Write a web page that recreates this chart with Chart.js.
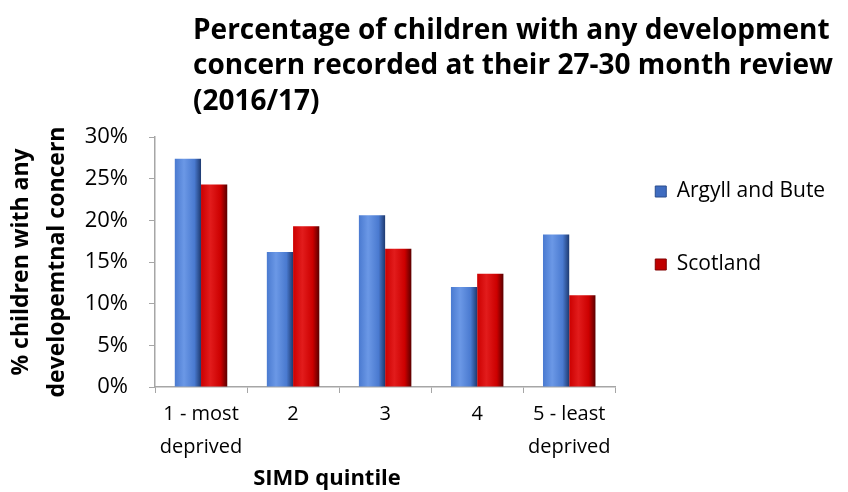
<!DOCTYPE html>
<html>
<head>
<meta charset="utf-8">
<script src="https://cdn.jsdelivr.net/npm/chart.js@4/dist/chart.umd.min.js"></script>
<style>
  html, body { margin: 0; padding: 0; background: #fff; }
  #wrap { width: 848px; height: 492px; }
</style>
</head>
<body>
<div id="wrap"><canvas id="chart" width="848" height="492"></canvas></div>
<script>
const categories = [['1 - most', 'deprived'], '2', '3', '4', ['5 - least', 'deprived']];
const argyllAndBute = [27.4, 16.2, 20.6, 12.0, 18.3];
const scotland = [24.3, 19.3, 16.6, 13.6, 11.0];
const yTicks = [0, 5, 10, 15, 20, 25, 30];

const titleLines = [
  'Percentage of children with any development',
  'concern recorded at their 27-30 month review',
  '(2016/17)'
];

const FONT = '"Open Sans", Lato, sans-serif';
const CAT_PCT = 0.57;

// cylinder-ish shading across each bar
function barFill(base, light, dark, side) {
  return ctx => {
    const chart = ctx.chart;
    const x = chart.scales.x;
    if (!chart.chartArea || !x || ctx.dataIndex == null) return base;
    const catW = x.width / categories.length;
    const w = catW * CAT_PCT / 2;
    const c = x.getPixelForValue(ctx.dataIndex);
    const left = side === 0 ? c - w : c;
    const g = chart.ctx.createLinearGradient(left, 0, left + w, 0);
    g.addColorStop(0, base);
    g.addColorStop(0.35, light);
    g.addColorStop(0.75, base);
    g.addColorStop(1, dark);
    return g;
  };
}

const textPlugin = {
  id: 'extraText',
  afterLayout(chart) {
    // nudge the legend a bit left/up and give its text room
    const lg = chart.legend;
    if (!lg) return;
    lg.left -= 12;
    lg.right = chart.width;
    lg.width = lg.right - lg.left;
    lg.top -= 8; lg.bottom -= 8;
  },
  afterDraw(chart) {
    const c = chart.ctx;
    c.save();
    c.fillStyle = '#000';
    c.textBaseline = 'middle';
    c.textAlign = 'left';
    c.font = 'bold 28px ' + FONT;
    titleLines.forEach((t, i) => c.fillText(t, 193, 31 + i * 35.5));
    c.font = 'bold 22px ' + FONT;
    c.textAlign = 'center';
    c.fillText('SIMD quintile', 327, 479);
    c.restore();
  }
};

function draw() {
  new Chart(document.getElementById('chart'), {
    type: 'bar',
    data: {
      labels: categories,
      datasets: [
        {
          label: 'Argyll and Bute',
          data: argyllAndBute,
          backgroundColor: barFill('#4a7ad0', '#6b98e6', '#1e3a70', 0),
          borderWidth: 0
        },
        {
          label: 'Scotland',
          data: scotland,
          backgroundColor: barFill('#cc0000', '#e21c1c', '#5a0000', 1),
          borderWidth: 0
        }
      ]
    },
    options: {
      responsive: false,
      animation: false,
      layout: { padding: { top: 137, right: 29, bottom: 23, left: 4 } },
      datasets: { bar: { barPercentage: 1, categoryPercentage: CAT_PCT } },
      plugins: {
        title: { display: false },
        tooltip: { enabled: false },
        legend: {
          position: 'right',
          align: 'start',
          labels: {
            color: '#000',
            font: { family: FONT, size: 21 },
            boxWidth: 11,
            boxHeight: 11,
            padding: 52,
            generateLabels(chart) {
              return chart.data.datasets.map((d, i) => ({
                text: d.label,
                fillStyle: i === 0 ? '#3f6cc0' : '#c00000',
                strokeStyle: i === 0 ? '#2a4c8c' : '#800000',
                lineWidth: 1,
                datasetIndex: i
              }));
            }
          }
        }
      },
      scales: {
        x: {
          grid: {
            display: true,
            drawOnChartArea: false,
            drawTicks: true,
            tickLength: 6,
            color: '#a6a6a6'
          },
          border: { color: '#a6a6a6', width: 1.5 },
          ticks: {
            color: '#000',
            font: { family: FONT, size: 20, lineHeight: 1.65 },
            maxRotation: 0,
            autoSkip: false,
            padding: 5
          }
        },
        y: {
          min: 0,
          max: 30,
          afterBuildTicks(axis) { axis.ticks = yTicks.map(v => ({ value: v })); },
          afterFit(axis) { axis.width = 151; },
          grid: {
            display: true,
            drawOnChartArea: false,
            drawTicks: true,
            tickLength: 6,
            color: '#a6a6a6'
          },
          border: { color: '#a6a6a6', width: 1.5 },
          ticks: {
            color: '#000',
            font: { family: FONT, size: 22 },
            padding: 21,
            callback: v => v + '%'
          },
          title: {
            display: true,
            text: ['% children with any', 'developemtnal concern'],
            color: '#000',
            font: { family: FONT, size: 23, weight: 'bold', lineHeight: 1.55 },
            padding: { top: 0, bottom: 6 }
          }
        }
      }
    },
    plugins: [textPlugin]
  });
}

Promise.all([
  document.fonts.load('22px "Open Sans"'),
  document.fonts.load('bold 22px "Open Sans"')
]).then(draw, draw);
</script>
</body>
</html>
